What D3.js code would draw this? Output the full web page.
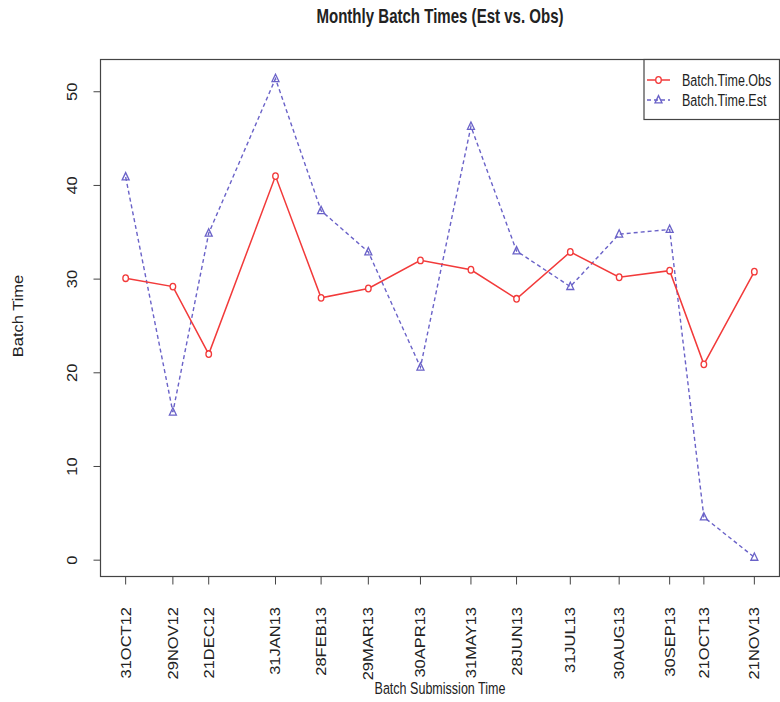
<!DOCTYPE html>
<html>
<head>
<meta charset="utf-8">
<script src="https://cdn.jsdelivr.net/npm/d3@7"></script>
<style>
  body { margin: 0; background: #fff; }
  text { font-family: "Liberation Sans", Arial, sans-serif; fill: #222; }
</style>
</head>
<body>
<div id="chart"></div>
<script>
// data
let dates = ["2012-10-31", "2012-11-29", "2012-12-21", "2013-01-31", "2013-02-28", "2013-03-29", "2013-04-30",
             "2013-05-31", "2013-06-28", "2013-07-31", "2013-08-30", "2013-09-30", "2013-10-21", "2013-11-21"];
let xLabels = ["31OCT12", "29NOV12", "21DEC12", "31JAN13", "28FEB13", "29MAR13", "30APR13",
               "31MAY13", "28JUN13", "31JUL13", "30AUG13", "30SEP13", "21OCT13", "21NOV13"];
let obs = [30.1, 29.2, 22.0, 41.0, 28.0, 29.0, 32.0, 31.0, 27.9, 32.9, 30.2, 30.9, 20.9, 30.8];
let est = [40.9, 15.8, 34.9, 51.4, 37.3, 32.9, 20.6, 46.3, 33.0, 29.2, 34.8, 35.3, 4.6, 0.3];
let yTicks = [0, 10, 20, 30, 40, 50];
let seriesNames = ["Batch.Time.Obs", "Batch.Time.Est"];

let W = 780, H = 702;
let plot = {left: 100.5, right: 779.5, top: 59.5, bottom: 576.5};
let squeeze = 0.76;   // picture is squashed horizontally
let vSqueeze = 0.85;  // rotated labels look a bit fuller
let fs = 16.5;
let red = "#f23a3a", blue = "#6a62c8";

let parse = d3.timeParse("%Y-%m-%d");
let data = dates.map((d, i) => ({date: parse(d), label: xLabels[i], obs: obs[i], est: est[i]}));

let svg = d3.select("#chart").append("svg")
    .attr("width", W)
    .attr("height", H);

// R style 4% padding on both axes
function padded(ext) {
  let r = ext[1] - ext[0];
  return [ext[0] - 0.04 * r, ext[1] + 0.04 * r];
}
let xExt = d3.extent(data, d => d.date).map(Number);
let x = d3.scaleTime()
    .domain(padded(xExt).map(v => new Date(v)))
    .range([plot.left, plot.right]);
let y = d3.scaleLinear()
    .domain(padded([d3.min(data, d => Math.min(d.obs, d.est)), d3.max(data, d => Math.max(d.obs, d.est))]))
    .range([plot.bottom, plot.top]);

// horizontal text, squashed
function hText(g, tx, ty, str, size, weight) {
  return g.append("text")
    .attr("transform", "translate(" + tx + "," + ty + ") scale(" + squeeze + ",1)")
    .attr("text-anchor", "middle")
    .attr("font-size", size)
    .attr("font-weight", weight || "normal")
    .text(str);
}
// vertical text, reads upward
function vText(g, tx, ty, str, anchor) {
  return g.append("text")
    .attr("transform", "translate(" + tx + "," + ty + ") scale(" + vSqueeze + ",1) rotate(-90)")
    .attr("text-anchor", anchor)
    .attr("font-size", fs)
    .text(str);
}

// title and axis titles
hText(svg, 440, 23, "Monthly Batch Times (Est vs. Obs)", fs * 1.2, "bold");
hText(svg, 440, 694, "Batch Submission Time", fs);
vText(svg, 23, 316, "Batch Time", "middle");

// y axis
let yAxis = svg.append("g");
yTicks.forEach(t => {
  yAxis.append("line")
    .attr("x1", plot.left - 7).attr("x2", plot.left)
    .attr("y1", y(t)).attr("y2", y(t))
    .attr("stroke", "#444");
  vText(yAxis, 77, y(t), String(t), "middle");
});

// x axis
let xAxis = svg.append("g");
data.forEach(d => {
  xAxis.append("line")
    .attr("x1", x(d.date)).attr("x2", x(d.date))
    .attr("y1", plot.bottom).attr("y2", plot.bottom + 8)
    .attr("stroke", "#444");
  vText(xAxis, x(d.date) + 5, 607, d.label, "end");
});

// plot box
svg.append("rect")
    .attr("x", plot.left).attr("y", plot.top)
    .attr("width", plot.right - plot.left).attr("height", plot.bottom - plot.top)
    .attr("fill", "none").attr("stroke", "#444").attr("stroke-width", 1.2);

// markers
function triangle(g, cx, cy, color) {
  let p = d3.path();
  p.moveTo(cx, cy - 4.4);
  p.lineTo(cx + 3.5, cy + 2.9);
  p.lineTo(cx - 3.5, cy + 2.9);
  p.closePath();
  g.append("path").attr("d", p.toString())
    .attr("fill", "none").attr("stroke", color).attr("stroke-width", 1.3);
}
function circle(g, cx, cy, color) {
  g.append("ellipse")
    .attr("cx", cx).attr("cy", cy).attr("rx", 2.8).attr("ry", 3.3)
    .attr("fill", "#fff").attr("stroke", color).attr("stroke-width", 1.3);
}

// lines
let lineObs = d3.line().x(d => x(d.date)).y(d => y(d.obs));
let lineEst = d3.line().x(d => x(d.date)).y(d => y(d.est));

svg.append("path").datum(data)
    .attr("d", lineEst)
    .attr("fill", "none").attr("stroke", blue).attr("stroke-width", 1.4)
    .attr("stroke-dasharray", "4,3");
svg.append("path").datum(data)
    .attr("d", lineObs)
    .attr("fill", "none").attr("stroke", red).attr("stroke-width", 1.5);

let marks = svg.append("g");
data.forEach(d => {
  triangle(marks, x(d.date), y(d.est), blue);
  circle(marks, x(d.date), y(d.obs), red);
});

// legend
let leg = svg.append("g");
leg.append("rect")
    .attr("x", 644).attr("y", plot.top)
    .attr("width", plot.right - 644).attr("height", 60)
    .attr("fill", "#fff").attr("stroke", "#444").attr("stroke-width", 1.2);
let legY = [80, 100];
leg.append("line").attr("x1", 647).attr("x2", 670).attr("y1", legY[0]).attr("y2", legY[0])
    .attr("stroke", red).attr("stroke-width", 1.5);
circle(leg, 658.5, legY[0], red);
leg.append("line").attr("x1", 647).attr("x2", 670).attr("y1", legY[1]).attr("y2", legY[1])
    .attr("stroke", blue).attr("stroke-width", 1.4).attr("stroke-dasharray", "4,3");
triangle(leg, 658.5, legY[1], blue);
seriesNames.forEach((n, i) => {
  hText(leg, 682, legY[i] + 5.5, n, fs).attr("text-anchor", "start");
});
</script>
</body>
</html>
